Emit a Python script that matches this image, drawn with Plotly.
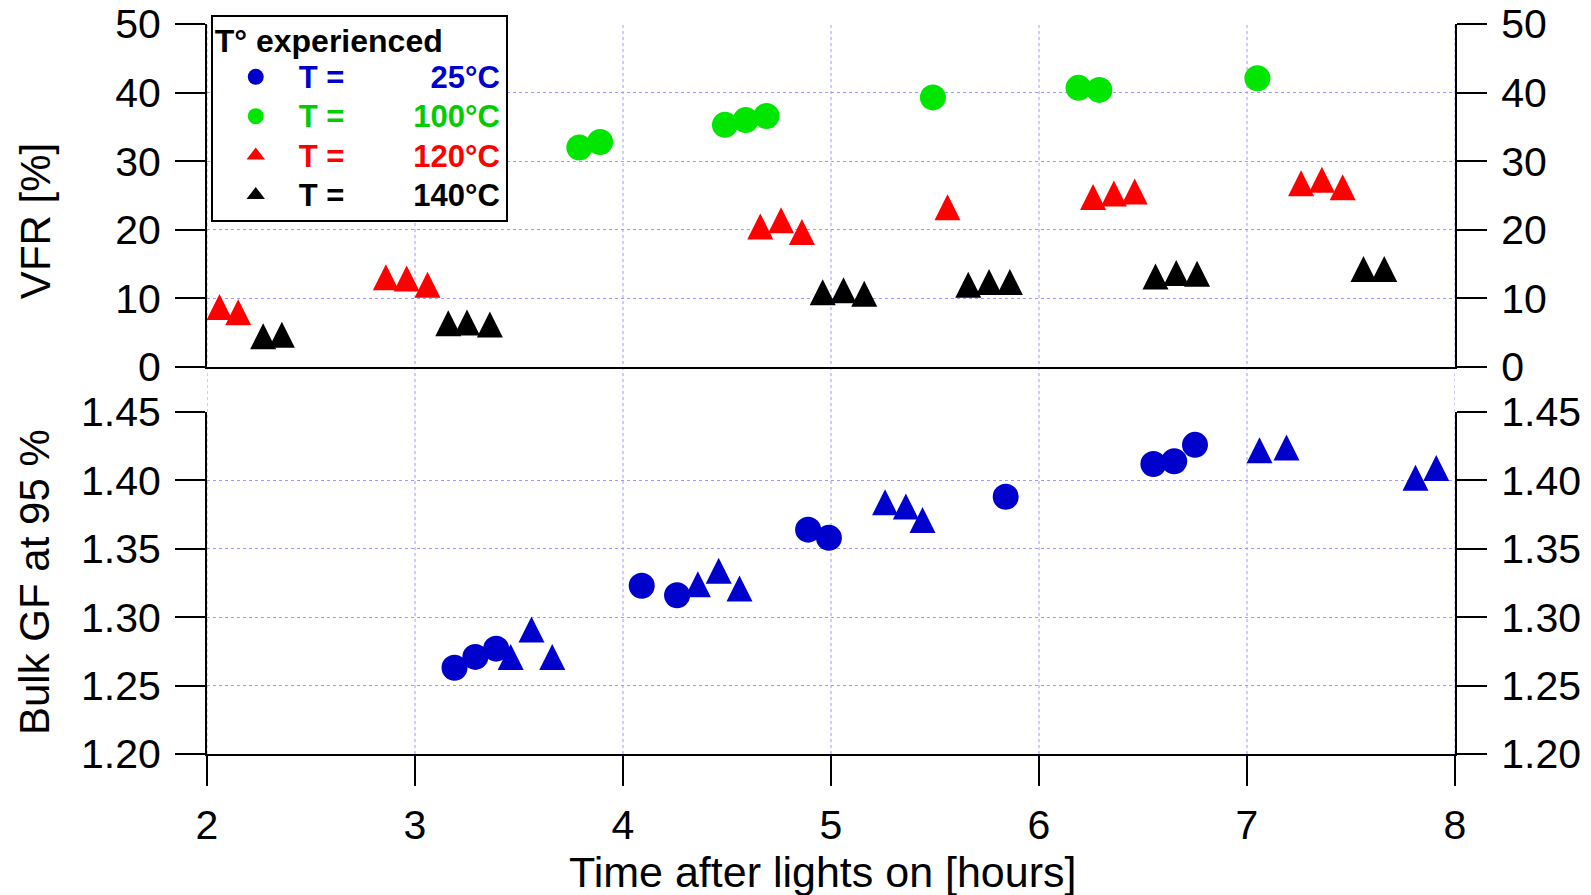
import plotly.graph_objects as go

# ---------------- data ----------------
X_TICKS = [2, 3, 4, 5, 6, 7, 8]
VFR_TICKS = [0, 10, 20, 30, 40, 50]
GF_TICKS = [1.20, 1.25, 1.30, 1.35, 1.40, 1.45]
GF_TICK_LABELS = ["1.20", "1.25", "1.30", "1.35", "1.40", "1.45"]

# Top panel: VFR [%]
t_100 = [3.79, 3.89, 4.49, 4.59, 4.69, 5.49, 6.19, 6.29, 7.05]
vfr_100 = [32.0, 32.8, 35.3, 36.0, 36.6, 39.3, 40.7, 40.4, 42.1]

t_120 = [2.06, 2.15, 2.86, 2.96, 3.06, 4.66, 4.76, 4.86, 5.56,
         6.26, 6.36, 6.46, 7.26, 7.36, 7.46]
vfr_120 = [8.75, 8.0, 13.1, 12.9, 12.0, 20.5, 21.4, 19.7, 23.3,
           24.8, 25.3, 25.6, 26.8, 27.3, 26.2]

t_140 = [2.27, 2.36, 3.16, 3.25, 3.36, 4.96, 5.06, 5.16, 5.66, 5.76, 5.86,
         6.56, 6.66, 6.76, 7.56, 7.66]
vfr_140 = [4.5, 4.7, 6.4, 6.5, 6.2, 10.9, 11.2, 10.7, 12.0, 12.4, 12.4,
           13.2, 13.7, 13.6, 14.3, 14.3]

# Bottom panel: Bulk GF at 95 %
t_25_circ = [3.19, 3.29, 3.39, 4.09, 4.26, 4.89, 4.99, 5.84, 6.55, 6.65, 6.75]
gf_25_circ = [1.263, 1.271, 1.277, 1.323, 1.316, 1.364, 1.358, 1.388,
              1.412, 1.414, 1.426]

t_25_tri = [3.46, 3.56, 3.66, 4.36, 4.46, 4.56, 5.26, 5.36, 5.44,
            7.06, 7.19, 7.81, 7.91]
gf_25_tri = [1.271, 1.291, 1.271, 1.324, 1.334, 1.321, 1.384, 1.381, 1.371,
             1.422, 1.424, 1.402, 1.409]

# ---------------- style ----------------
FONT = "Liberation Sans, Arial, sans-serif"
BLUE = "#0000cc"
GREEN = "#00e600"
GREEN_TXT = "#00cc00"
RED = "#ff0000"
BLACK = "#000000"
GRID = "#9a9aff"
NB = "\u00a0"
MSIZE = 26
# upward triangle (equal width and height) centred on the data point
TRI = dict(symbol="arrow-down", angle=180, size=MSIZE, standoff=MSIZE / 2)


def lname(color, value, pad):
    return ('<b><span style="font-size:31px;color:%s">T =%s%s</span></b>'
            % (color, NB * pad, value))


fig = go.Figure()

fig.add_trace(go.Scatter(x=t_25_circ, y=gf_25_circ, mode="markers", xaxis="x", yaxis="y",
                         name=lname(BLUE, "25°C", 10),
                         marker=dict(symbol="circle", size=MSIZE, color=BLUE)))
fig.add_trace(go.Scatter(x=t_100, y=vfr_100, mode="markers", xaxis="x2", yaxis="y2",
                         name=lname(GREEN_TXT, "100°C", 8),
                         marker=dict(symbol="circle", size=MSIZE, color=GREEN)))
# legend entries for the triangle series (plain up-triangles in the legend box)
fig.add_trace(go.Scatter(x=[None], y=[None], mode="markers", xaxis="x2", yaxis="y2",
                         name=lname(RED, "120°C", 8), legendgroup="120",
                         marker=dict(symbol="triangle-up", size=MSIZE, color=RED)))
fig.add_trace(go.Scatter(x=[None], y=[None], mode="markers", xaxis="x2", yaxis="y2",
                         name=lname(BLACK, "140°C", 8), legendgroup="140",
                         marker=dict(symbol="triangle-up", size=MSIZE, color=BLACK)))
fig.add_trace(go.Scatter(x=t_120, y=vfr_120, mode="markers", xaxis="x2", yaxis="y2",
                         name="120°C", legendgroup="120", showlegend=False,
                         marker=dict(color=RED, **TRI)))
fig.add_trace(go.Scatter(x=t_140, y=vfr_140, mode="markers", xaxis="x2", yaxis="y2",
                         name="140°C", legendgroup="140", showlegend=False,
                         marker=dict(color=BLACK, **TRI)))
fig.add_trace(go.Scatter(x=t_25_tri, y=gf_25_tri, mode="markers", xaxis="x", yaxis="y",
                         showlegend=False,
                         marker=dict(color=BLUE, **TRI)))
# empty traces so that the right-hand mirror axes are drawn
fig.add_trace(go.Scatter(x=[None], y=[None], xaxis="x", yaxis="y3", showlegend=False,
                         hoverinfo="skip", mode="markers"))
fig.add_trace(go.Scatter(x=[None], y=[None], xaxis="x2", yaxis="y4", showlegend=False,
                         hoverinfo="skip", mode="markers"))

tickfont = dict(family=FONT, size=41, color="black")
common_y = dict(ticks="outside", ticklen=30, tickwidth=2, tickcolor="black",
                showline=True, linewidth=2, linecolor="black", zeroline=False,
                tickfont=tickfont, ticklabelstandoff=6)

TOP = [0.530, 1.0]
BOT = [0.0, 0.4685]

fig.update_layout(
    width=1591, height=895,
    margin=dict(l=207, r=136, t=24, b=141, autoexpand=False),
    paper_bgcolor="white", plot_bgcolor="rgba(0,0,0,0)",
    font=dict(family=FONT, color="black"),
    xaxis=dict(domain=[0, 1], anchor="y", range=[2, 8], tickvals=X_TICKS,
               ticks="outside", ticklen=30, tickwidth=2, tickcolor="black",
               showline=True, linewidth=2, linecolor="black", showgrid=False,
               zeroline=False, tickfont=tickfont, ticklabelstandoff=4),
    yaxis=dict(domain=BOT, anchor="x", range=[1.2, 1.45], tickvals=GF_TICKS,
               ticktext=GF_TICK_LABELS, showgrid=True, gridcolor=GRID,
               gridwidth=1, griddash="dot", **common_y),
    yaxis3=dict(domain=BOT, anchor="x", overlaying="y", side="right",
                range=[1.2, 1.45], tickvals=GF_TICKS, ticktext=GF_TICK_LABELS,
                showgrid=False, **common_y),
    xaxis2=dict(domain=[0, 1], anchor="y2", matches="x", range=[2, 8],
                showline=True, linewidth=2, linecolor="black", ticks="",
                showticklabels=False, showgrid=False, zeroline=False),
    yaxis2=dict(domain=TOP, anchor="x2", range=[0, 50], tickvals=VFR_TICKS,
                showgrid=True, gridcolor=GRID, gridwidth=1, griddash="dot",
                **common_y),
    yaxis4=dict(domain=TOP, anchor="x2", overlaying="y2", side="right",
                range=[0, 50], tickvals=VFR_TICKS, showgrid=False, **common_y),
    legend=dict(x=0.003, y=1.0123, xanchor="left", yanchor="top",
                bgcolor="white", bordercolor="black", borderwidth=2,
                font=dict(family=FONT, size=28), itemwidth=76,
                traceorder="normal", groupclick="toggleitem", tracegroupgap=0,
                title=dict(text='<b><span style="font-size:32px">T° experienced</span></b>',
                           font=dict(family=FONT, size=27, color="black"))),
    showlegend=True,
)

# vertical dotted grid lines running through both panels
for xv in X_TICKS:
    fig.add_shape(type="line", xref="x", yref="paper", x0=xv, x1=xv, y0=0, y1=1,
                  line=dict(color=GRID, width=1, dash="dot"), layer="below")

# axis titles
fig.add_annotation(text="VFR [%]", xref="paper", yref="paper", x=-0.1378, y=0.730,
                   textangle=-90, showarrow=False, xanchor="center", yanchor="middle",
                   font=dict(family=FONT, size=42, color="black"))
fig.add_annotation(text="Bulk GF at 95 %", xref="paper", yref="paper", x=-0.1386, y=0.2356,
                   textangle=-90, showarrow=False, xanchor="center", yanchor="middle",
                   font=dict(family=FONT, size=42, color="black"))
fig.add_annotation(text="Time after lights on [hours]", xref="paper", yref="paper",
                   x=0.493, y=-0.162, showarrow=False, xanchor="center", yanchor="middle",
                   font=dict(family=FONT, size=43, color="black"))

fig.write_html("out.html")
